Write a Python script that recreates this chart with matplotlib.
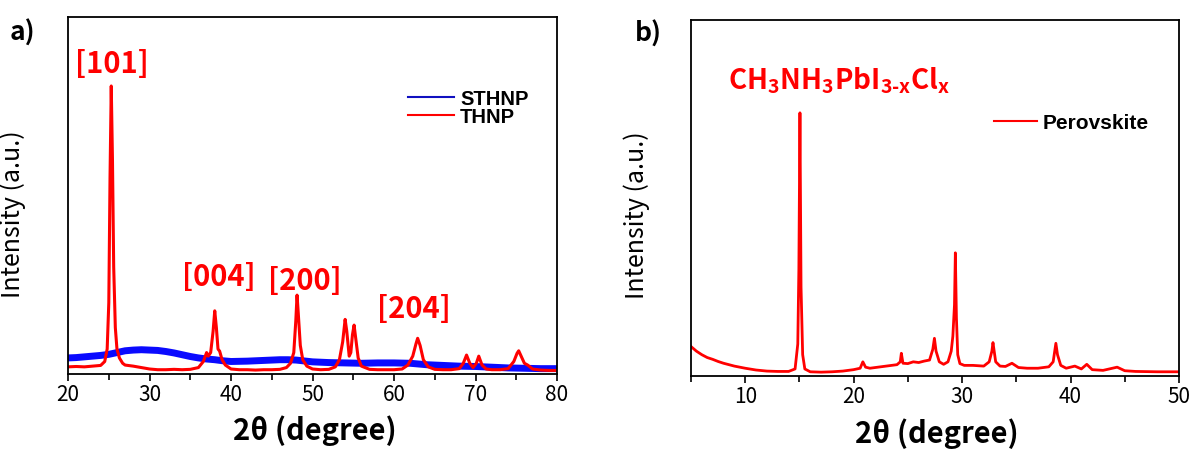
import matplotlib
matplotlib.use("Agg")
import matplotlib.pyplot as plt
from matplotlib.ticker import MultipleLocator
from matplotlib.lines import Line2D

# ---------------- data ----------------
# Panel a: STHNP (blue) and THNP (red), normalised intensity
sthnp_x = [20, 21, 22, 23, 24, 25, 26, 27, 28, 29, 30, 31, 32, 33, 34, 35, 36, 37, 38, 39,
           40, 42, 44, 46, 47, 48, 50, 52, 54, 56, 58, 60, 62, 64, 66, 68, 70, 72, 74, 76, 78, 80]
sthnp_y = [0.045, 0.046, 0.048, 0.050, 0.052, 0.055, 0.060, 0.065, 0.067, 0.068, 0.067, 0.066,
           0.063, 0.059, 0.054, 0.049, 0.045, 0.042, 0.040, 0.037, 0.035, 0.036, 0.038, 0.040,
           0.040, 0.039, 0.034, 0.032, 0.031, 0.030, 0.031, 0.031, 0.030, 0.026, 0.024, 0.022,
           0.021, 0.019, 0.017, 0.016, 0.015, 0.015]

thnp_x = [20, 21, 22, 23, 24, 24.5, 24.8, 25.0, 25.15, 25.3, 25.45, 25.6, 25.8, 26.0, 26.3,
          26.7, 27, 28, 29, 30, 31, 32, 33, 34, 35, 36, 36.6, 37.0, 37.2, 37.5, 37.8, 38.0,
          38.2, 38.4, 38.6, 38.9, 39.3, 40, 41, 42, 43, 44, 45, 46, 46.8, 47.3, 47.7, 47.95,
          48.1, 48.25, 48.5, 48.8, 49.3, 50, 51, 52, 52.8, 53.3, 53.7, 54.0, 54.2, 54.5, 54.7,
          54.9, 55.1, 55.3, 55.6, 56.0, 57, 58, 59, 60, 61, 61.7, 62.3, 62.7, 62.9, 63.2, 63.6,
          64.2, 65, 66, 67, 68, 68.5, 68.9, 69.3, 69.7, 70.1, 70.4, 70.8, 71.3, 72, 73, 74,
          74.7, 75.1, 75.3, 75.6, 76.0, 76.4, 77, 78, 79, 80]
thnp_y = [0.020, 0.021, 0.020, 0.022, 0.024, 0.035, 0.070, 0.200, 0.550, 0.807, 0.600, 0.300,
          0.130, 0.070, 0.045, 0.030, 0.025, 0.022, 0.018, 0.014, 0.012, 0.012, 0.013, 0.012,
          0.013, 0.018, 0.035, 0.060, 0.050, 0.060, 0.120, 0.177, 0.130, 0.070, 0.064, 0.040,
          0.025, 0.014, 0.012, 0.012, 0.011, 0.012, 0.012, 0.013, 0.018, 0.030, 0.060, 0.150,
          0.221, 0.170, 0.080, 0.040, 0.022, 0.014, 0.012, 0.013, 0.020, 0.040, 0.090, 0.153,
          0.120, 0.050, 0.060, 0.110, 0.137, 0.100, 0.045, 0.022, 0.013, 0.012, 0.012, 0.012,
          0.014, 0.025, 0.050, 0.085, 0.100, 0.080, 0.040, 0.020, 0.013, 0.012, 0.012, 0.015,
          0.030, 0.053, 0.030, 0.018, 0.030, 0.050, 0.025, 0.014, 0.012, 0.012, 0.015, 0.035,
          0.058, 0.065, 0.050, 0.030, 0.025, 0.014, 0.011, 0.010, 0.010]

peak_labels = ["[101]", "[004]", "[200]", "[204]"]
peak_label_x = [25.4, 38.5, 49.0, 62.45]
peak_label_y = [0.868, 0.272, 0.26, 0.182]

# Panel b: perovskite
perov_x = [5, 5.5, 6, 6.5, 7, 7.5, 8, 8.5, 9, 10, 11, 12, 13, 14, 14.6, 14.85, 14.95, 15.05,
           15.15, 15.3, 15.5, 16, 17, 18, 19, 20, 20.6, 20.85, 21.1, 21.5, 22, 23, 24, 24.3,
           24.4, 24.55, 25, 25.5, 26, 26.5, 27.0, 27.3, 27.45, 27.6, 27.9, 28.3, 28.7, 29.0,
           29.15, 29.3, 29.38, 29.48, 29.6, 29.8, 30.2, 31, 32, 32.5, 32.75, 32.85, 33.1, 33.5,
           34, 34.6, 35.2, 36, 37, 38, 38.4, 38.65, 38.8, 39.1, 39.6, 40.4, 41, 41.5, 42, 43,
           44.3, 45, 46, 48, 50]
perov_y = [0.083, 0.070, 0.060, 0.052, 0.047, 0.041, 0.036, 0.032, 0.028, 0.022, 0.017, 0.014,
           0.013, 0.013, 0.020, 0.090, 0.300, 0.739, 0.250, 0.060, 0.020, 0.012, 0.011, 0.012,
           0.014, 0.018, 0.022, 0.040, 0.025, 0.022, 0.024, 0.028, 0.032, 0.040, 0.064, 0.036,
           0.035, 0.040, 0.038, 0.042, 0.045, 0.075, 0.106, 0.070, 0.040, 0.033, 0.040, 0.070,
           0.112, 0.200, 0.346, 0.163, 0.060, 0.035, 0.030, 0.030, 0.028, 0.040, 0.070, 0.094,
           0.040, 0.028, 0.027, 0.036, 0.024, 0.022, 0.022, 0.026, 0.040, 0.092, 0.060, 0.030,
           0.022, 0.028, 0.020, 0.033, 0.018, 0.016, 0.025, 0.015, 0.013, 0.012, 0.012]

# ---------------- styling ----------------
FONT = ["Noto Sans CJK KR", "DejaVu Sans"]
LEG_FONT = ["Liberation Sans", "DejaVu Sans"]
RED = "#ff0000"
BLUE = "#0a0aff"

plt.rcParams["font.family"] = FONT
plt.rcParams["mathtext.fontset"] = "custom"
plt.rcParams["mathtext.rm"] = "Noto Sans CJK KR:bold"
plt.rcParams["mathtext.bf"] = "Noto Sans CJK KR:bold"
plt.rcParams["mathtext.it"] = "Noto Sans CJK KR:bold"

fig = plt.figure(figsize=(11.94, 4.62), dpi=100)
ax_a = fig.add_axes([0.057, 0.1905, 0.4095, 0.7725])
ax_b = fig.add_axes([0.5787, 0.186, 0.4087, 0.771])


def style_axis(ax, xmin, xmax):
    ax.set_xlim(xmin, xmax)
    ax.set_ylim(0, 1)
    ax.set_yticks([])
    ax.xaxis.set_major_locator(MultipleLocator(10))
    ax.xaxis.set_minor_locator(MultipleLocator(5))
    ax.tick_params(axis="x", which="major", direction="out", length=5, width=1.2,
                   labelsize=15, pad=2, top=False)
    ax.tick_params(axis="x", which="minor", direction="out", length=4, width=1.2, top=False)
    for s in ax.spines.values():
        s.set_linewidth(1.3)
        s.set_color("black")
    ax.set_xlabel("2θ (degree)", fontsize=21, fontweight="bold")
    ax.set_ylabel("Intensity (a.u.)", fontsize=18)


# ---- panel a ----
ax_a.plot(sthnp_x, sthnp_y, color=BLUE, lw=5, solid_joinstyle="round", label="STHNP")
ax_a.plot(thnp_x, thnp_y, color=RED, lw=2.2, label="THNP")
style_axis(ax_a, 20, 80)
ax_a.xaxis.set_label_coords(0.505, -0.115)
ax_a.yaxis.set_label_coords(-0.086, 0.448)
for t, px, py in zip(peak_labels, peak_label_x, peak_label_y):
    ax_a.text(px, py, t, color=RED, fontsize=21, fontweight="bold",
              ha="center", va="center")
handles_a = [Line2D([], [], color="#1010c0", lw=1.5), Line2D([], [], color=RED, lw=1.5)]
ax_a.legend(handles_a, ["STHNP", "THNP"], loc="upper left", bbox_to_anchor=(0.695, 0.797),
            frameon=False, handlelength=2.3, handletextpad=0.3, labelspacing=-0.05,
            borderpad=0, borderaxespad=0,
            prop={"family": LEG_FONT, "weight": "bold", "size": 14.5})

# ---- panel b ----
ax_b.plot(perov_x, perov_y, color=RED, lw=2.0, label="Perovskite")
style_axis(ax_b, 5, 50)
ax_b.xaxis.set_label_coords(0.504, -0.118)
ax_b.yaxis.set_label_coords(-0.084, 0.452)
ax_b.text(18.65, 0.83, r"$\mathrm{CH_3NH_3PbI_{3\text{-}x}Cl_x}$", color=RED, fontsize=20,
          ha="center", va="center")
handles_b = [Line2D([], [], color=RED, lw=1.5)]
ax_b.legend(handles_b, ["Perovskite"], loc="upper left", bbox_to_anchor=(0.62, 0.737),
            frameon=False, handlelength=2.1, handletextpad=0.25,
            borderpad=0, borderaxespad=0,
            prop={"family": LEG_FONT, "weight": "bold", "size": 15})

fig.text(0.008, 0.958, "a)", fontsize=19, fontweight="bold", va="top", ha="left")
fig.text(0.532, 0.955, "b)", fontsize=19, fontweight="bold", va="top", ha="left")

fig.savefig("out.png", dpi=100)
